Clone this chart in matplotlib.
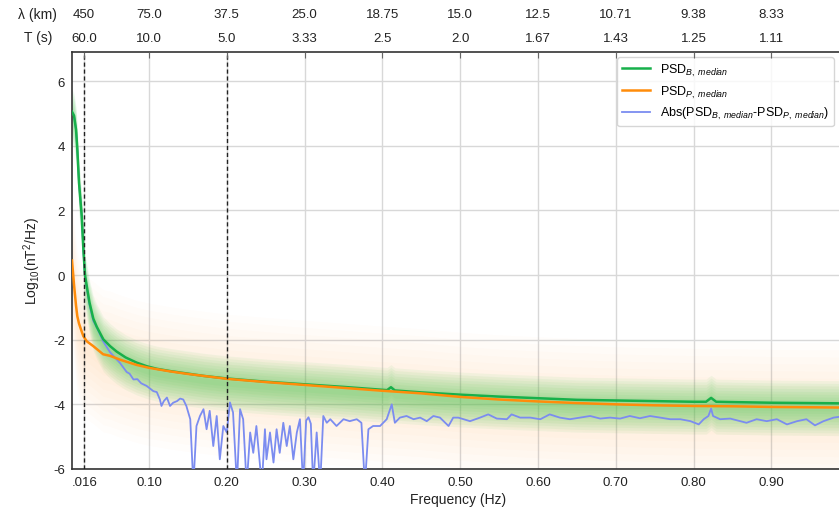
import numpy as np
import matplotlib.pyplot as plt

plt.rcParams['font.family'] = ['Liberation Sans', 'DejaVu Sans']
plt.rcParams['mathtext.fontset'] = 'custom'
plt.rcParams['mathtext.rm'] = 'Liberation Sans'
plt.rcParams['mathtext.it'] = 'Liberation Sans:italic'
plt.rcParams['axes.unicode_minus'] = False

# median PSD of the B field (log10 nT^2/Hz)
green_f = [0.001, 0.0036, 0.0062, 0.0078, 0.010, 0.0135, 0.0156, 0.0177, 0.0207, 0.0235,
           0.0284, 0.0328, 0.0413, 0.05, 0.0585, 0.07, 0.0842, 0.097, 0.11, 0.127,
           0.15, 0.17, 0.2, 0.25, 0.3, 0.35, 0.4, 0.406, 0.411, 0.416, 0.45, 0.5,
           0.55, 0.6, 0.65, 0.7, 0.75, 0.8, 0.816, 0.8225, 0.829, 0.85, 0.9, 0.95, 0.995]
green_v = [5.05, 4.93, 4.5, 3.9, 2.86, 1.83, 0.8, 0.0, -0.45, -0.85,
           -1.35, -1.6, -1.99, -2.2, -2.37, -2.55, -2.71, -2.82, -2.9, -2.97,
           -3.05, -3.12, -3.2, -3.3, -3.38, -3.46, -3.55, -3.56, -3.47, -3.57, -3.63, -3.7,
           -3.76, -3.81, -3.86, -3.88, -3.9, -3.92, -3.92, -3.8, -3.92, -3.93, -3.95, -3.96, -3.97]

# median PSD of the P field
orange_f = [0.001, 0.0036, 0.0062, 0.0078, 0.010, 0.0135, 0.0156, 0.02, 0.0284, 0.041,
            0.05, 0.063, 0.084, 0.1, 0.127, 0.15, 0.2, 0.25, 0.3, 0.35, 0.4, 0.45,
            0.5, 0.55, 0.6, 0.65, 0.7, 0.75, 0.8, 0.85, 0.9, 0.95, 0.995]
orange_v = [0.45, -0.3, -0.95, -1.27, -1.5, -1.75, -1.89, -2.05, -2.2, -2.45,
            -2.5, -2.62, -2.78, -2.87, -2.98, -3.06, -3.21, -3.31, -3.4, -3.49, -3.58, -3.66,
            -3.77, -3.85, -3.91, -3.96, -4.0, -4.03, -4.05, -4.06, -4.08, -4.09, -4.1]

# log10 of |PSD_B - PSD_P|
blue_f = [0.001, 0.0036, 0.0062, 0.0078, 0.010, 0.0135, 0.0156, 0.0177, 0.0207, 0.0235,
          0.0284, 0.0328, 0.041, 0.05, 0.0627, 0.0713, 0.075, 0.08, 0.085, 0.09,
          0.097, 0.1055, 0.11, 0.114, 0.116, 0.119, 0.123, 0.127, 0.131, 0.136,
          0.14, 0.144, 0.148, 0.153, 0.157, 0.161, 0.1655, 0.17, 0.174, 0.178,
          0.1826, 0.187, 0.191, 0.1955, 0.2, 0.204, 0.208, 0.213, 0.217, 0.221,
          0.2255, 0.23, 0.234, 0.238, 0.245, 0.249, 0.251, 0.2555, 0.26, 0.264,
          0.268, 0.2726, 0.277, 0.281, 0.2855, 0.29, 0.294, 0.298, 0.302, 0.305,
          0.308, 0.311, 0.3155, 0.32, 0.324, 0.3285, 0.333, 0.341, 0.35, 0.358,
          0.367, 0.373, 0.3775, 0.382, 0.388, 0.397, 0.4055, 0.412, 0.416, 0.4225,
          0.431, 0.44, 0.4485, 0.457, 0.4655, 0.474, 0.485, 0.491, 0.4975, 0.5126,
          0.5255, 0.536, 0.547, 0.56, 0.566, 0.577, 0.59, 0.603, 0.615, 0.628,
          0.641, 0.654, 0.667, 0.68, 0.6925, 0.7055, 0.718, 0.731, 0.744, 0.757,
          0.77, 0.783, 0.796, 0.8066, 0.813, 0.819, 0.8225, 0.825, 0.834, 0.847,
          0.86, 0.868, 0.881, 0.894, 0.907, 0.92, 0.933, 0.945, 0.956, 0.967,
          0.98, 0.995]
blue_v = [5.05, 4.93, 4.5, 3.9, 2.86, 1.82, 0.78, -0.05, -0.5, -0.92,
          -1.42, -1.62, -2.05, -2.39, -2.72, -3.0, -3.05, -3.23, -3.22, -3.35,
          -3.43, -3.59, -3.62, -3.85, -4.05, -3.9, -3.79, -4.05, -3.95, -3.9,
          -3.82, -3.85, -4.05, -4.46, -6.5, -4.67, -4.36, -4.15, -4.77, -4.2,
          -5.29, -4.36, -5.7, -4.67, -4.87, -3.94, -4.25, -6.5, -4.15, -4.46,
          -6.5, -4.87, -5.5, -4.67, -6.5, -4.77, -5.7, -4.87, -5.8, -4.77,
          -5.5, -4.57, -5.29, -4.67, -5.7, -4.87, -4.46, -6.5, -4.5, -4.4,
          -4.6, -6.5, -4.87, -6.5, -4.36, -4.57, -4.46, -4.67, -4.46, -4.52,
          -4.46, -4.57, -6.5, -4.77, -4.67, -4.67, -4.46, -4.0, -4.57, -4.41,
          -4.36, -4.46, -4.41, -4.52, -4.36, -4.41, -4.67, -4.41, -4.41, -4.52,
          -4.41, -4.31, -4.44, -4.46, -4.31, -4.41, -4.41, -4.46, -4.31, -4.41,
          -4.46, -4.41, -4.36, -4.44, -4.41, -4.44, -4.36, -4.43, -4.36, -4.41,
          -4.46, -4.46, -4.52, -4.62, -4.46, -4.36, -4.13, -4.36, -4.46, -4.44,
          -4.52, -4.57, -4.46, -4.52, -4.46, -4.62, -4.52, -4.46, -4.65, -4.52,
          -4.41, -4.36]

xticks = [1 / 60, 0.1, 0.2, 0.3, 0.4, 0.5, 0.6, 0.7, 0.8, 0.9]
xtick_labels = ['.016', '0.10', '0.20', '0.30', '0.40', '0.50', '0.60', '0.70', '0.80', '0.90']
lambda_labels = ['450', '75.0', '37.5', '25.0', '18.75', '15.0', '12.5', '10.71', '9.38', '8.33']
period_labels = ['60.0', '10.0', '5.0', '3.33', '2.5', '2.0', '1.67', '1.43', '1.25', '1.11']
marker_lines = [1 / 60, 0.2]

c_green = '#17b04a'
c_orange = '#ff8c0a'
c_blue = '#7b8cf0'

fig = plt.figure(figsize=(8.39, 5.10), dpi=100)
ax = fig.add_axes([72 / 839, 40 / 510, 773 / 839, 417 / 510])

gf = np.array(green_f)
gv = np.array(green_v)
of = np.array(orange_f)
ov = np.array(orange_v)

# faint clouds of the individual spectra
n_layers = 10
for k in range(n_layers):
    w = 2.2 * (k + 1) / n_layers
    ax.fill_between(of, ov - 0.2 - w, ov - 0.2 + w, color='#ffa040', alpha=0.02, lw=0, zorder=1)
for k in range(n_layers):
    w = 0.85 * (k + 1) / n_layers
    ax.fill_between(gf, gv - 0.15 - w, gv - 0.15 + w, color='#44c850', alpha=0.065, lw=0, zorder=2)

ax.plot(green_f, green_v, color=c_green, lw=1.8, zorder=4,
        label=r'PSD$_{B,\ median}$')
ax.plot(orange_f, orange_v, color=c_orange, lw=1.8, zorder=4,
        label=r'PSD$_{P,\ median}$')
ax.plot(blue_f, blue_v, color=c_blue, lw=1.3, zorder=3,
        label=r'Abs(PSD$_{B,\ median}$-PSD$_{P,\ median}$)')

for xv in marker_lines:
    ax.axvline(xv, color='#222222', ls='--', lw=1.0, dashes=(3, 2), zorder=6)

ax.set_xlim(0.001, 0.9946)
ax.set_ylim(-6, 6.9)
ax.set_yticks([-6, -4, -2, 0, 2, 4, 6])
ax.set_xticks(xticks)
ax.set_xticklabels(xtick_labels)
ax.grid(True, color='#d8d8d8', lw=1.0, zorder=0)
ax.set_axisbelow(True)
ax.tick_params(axis='both', length=0, labelsize=9.5, colors='#222222', pad=5)
for s in ax.spines.values():
    s.set_color('#333333')
    s.set_linewidth(1.2)
ax.spines['right'].set_visible(False)

ax.set_xlabel('Frequency (Hz)', fontsize=10, color='#222222', labelpad=3)
ax.set_ylabel(r'Log$_{10}$(nT$^2$/Hz)', fontsize=10, color='#222222', labelpad=7)

# top axes: period and wavelength
ax_t = ax.twiny()
ax_t.set_xlim(ax.get_xlim())
ax_t.set_xticks(xticks)
ax_t.set_xticklabels(period_labels)
ax_t.tick_params(axis='x', direction='in', length=4, color='#666666',
                 labelsize=9.5, labelcolor='#222222', pad=6)
ax_l = ax.twiny()
ax_l.set_xlim(ax.get_xlim())
ax_l.set_xticks(xticks)
ax_l.set_xticklabels(lambda_labels)
ax_l.tick_params(axis='x', length=0, labelsize=9.5, labelcolor='#222222', pad=23)
for a in (ax_t, ax_l):
    for s in a.spines.values():
        s.set_visible(False)

fig.text(37 / 839, 1 - 15 / 510, 'λ (km)', ha='center', va='center', fontsize=10, color='#222222')
fig.text(38 / 839, 1 - 38 / 510, 'T (s)', ha='center', va='center', fontsize=10, color='#222222')

leg = ax.legend(loc='upper left', bbox_to_anchor=((617 - 72) / 773, 1 - 5 / 417),
                fontsize=9, frameon=True, handlelength=2.2, borderaxespad=0,
                labelspacing=0.45, fancybox=True)
leg.get_frame().set_edgecolor('#cccccc')
leg.set_zorder(10)

fig.savefig('out.png', dpi=100)
